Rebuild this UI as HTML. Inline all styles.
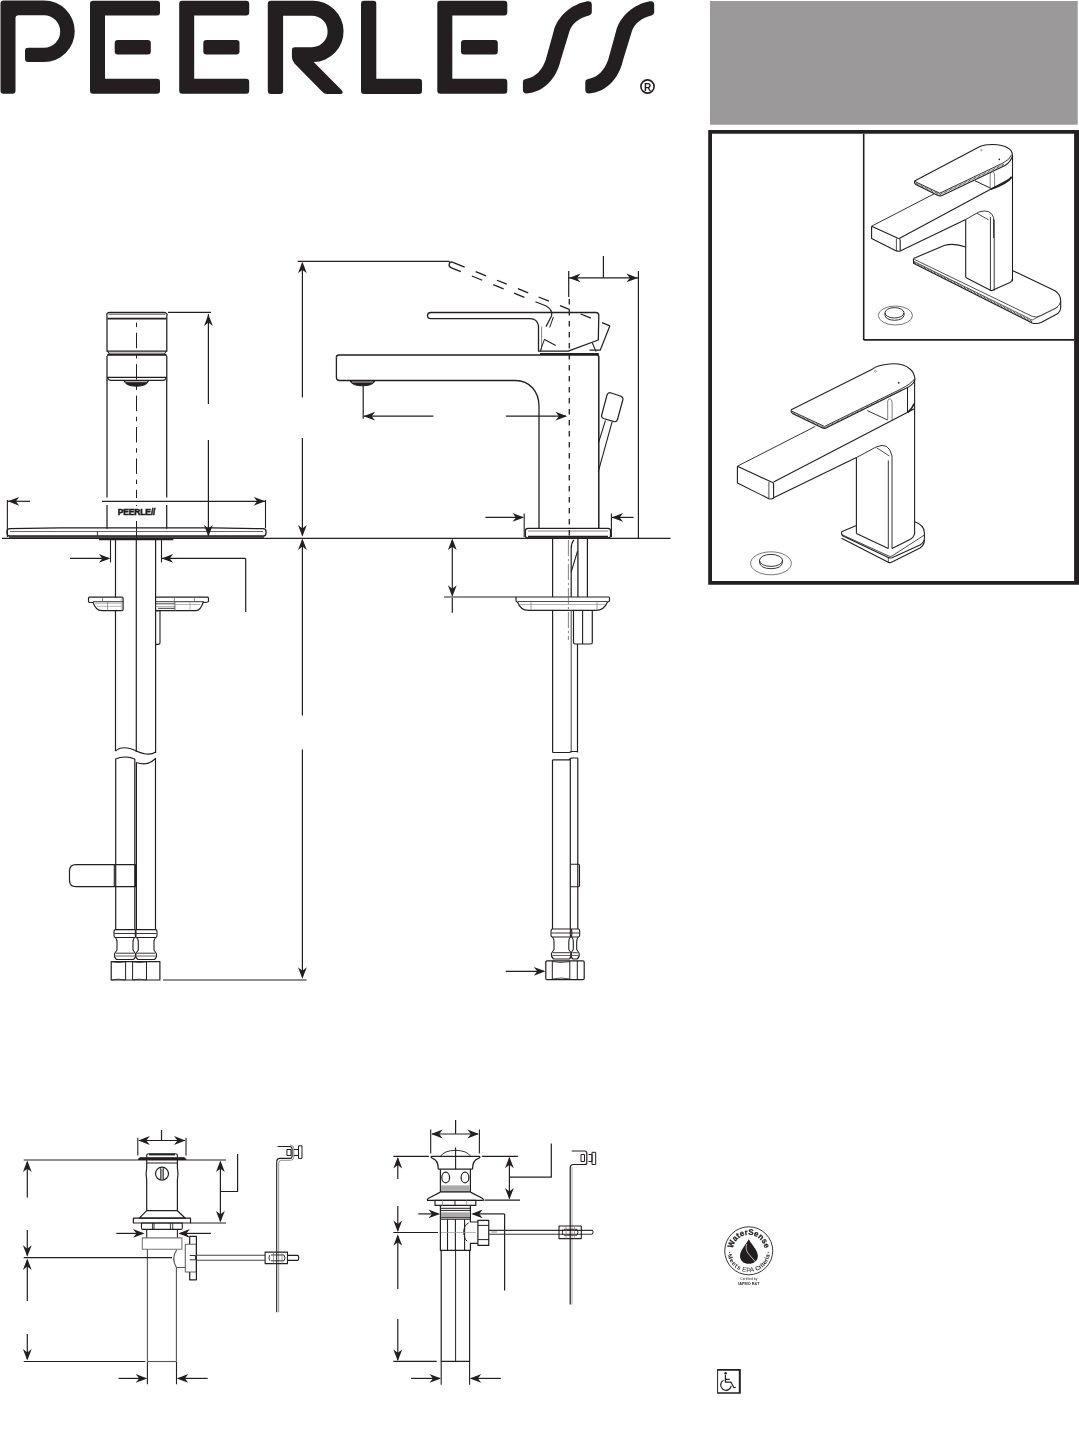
<!DOCTYPE html>
<html><head><meta charset="utf-8"><style>
html,body{margin:0;padding:0;background:#fff;}
body{width:1079px;height:1439px;overflow:hidden;position:relative;font-family:"Liberation Sans",sans-serif;}
svg{position:absolute;left:0;top:0;will-change:transform;}
</style></head><body>
<svg width="1079" height="1439" viewBox="0 0 1079 1439">
<path d="M3.5,0.5 H44 A30.75,30.75 0 0 1 44,62 H28 Q25,62 25,59 V50.7 Q25,47.7 28,47.7 H44 A16.2,16.2 0 0 0 44,15.3 H18.5 Q15.5,15.3 15.5,18.3 V90.8 Q15.5,93.8 12.5,93.8 H3.5 Q0.5,93.8 0.5,90.8 V3.5 Q0.5,0.5 3.5,0.5 Z" fill="#231f20"/>
<path d="M93,0.8 H157 Q160,0.8 160,3.8 V12.4 Q160,15.4 157,15.4 H105 V78.8 H157 Q160,78.8 160,81.8 V90.7 Q160,93.7 157,93.7 H93 Q90,93.7 90,90.7 V3.8 Q90,0.8 93,0.8 Z" fill="#231f20"/>
<rect x="114.7" y="40" width="36.10000000000001" height="14.5" rx="3" fill="#231f20"/>
<path d="M182.2,0.8 H246.2 Q249.2,0.8 249.2,3.8 V12.4 Q249.2,15.4 246.2,15.4 H194.2 V78.8 H246.2 Q249.2,78.8 249.2,81.8 V90.7 Q249.2,93.7 246.2,93.7 H182.2 Q179.2,93.7 179.2,90.7 V3.8 Q179.2,0.8 182.2,0.8 Z" fill="#231f20"/>
<rect x="203.3" y="40" width="36.19999999999999" height="14.5" rx="3" fill="#231f20"/>
<path d="M440.3,0.8 H504.3 Q507.3,0.8 507.3,3.8 V12.4 Q507.3,15.4 504.3,15.4 H452.3 V78.8 H504.3 Q507.3,78.8 507.3,81.8 V90.7 Q507.3,93.7 504.3,93.7 H440.3 Q437.3,93.7 437.3,90.7 V3.8 Q437.3,0.8 440.3,0.8 Z" fill="#231f20"/>
<rect x="461" y="40" width="36.80000000000001" height="14.5" rx="3" fill="#231f20"/>
<path d="M270.8,0.8 H312.2 A30.6,30.6 0 0 1 313.7,62 L342,90.5 Q344,94 340,94 H327 Q324.5,94 322.5,92 L294.5,63.5 Q291.9,60.5 291.9,57 V50.2 Q291.9,47.2 294.9,47.2 H311.85 A15.75,15.75 0 0 0 311.85,15.7 H283.1 V91 Q283.1,94 280.1,94 H270.8 Q267.8,94 267.8,91 V3.8 Q267.8,0.8 270.8,0.8 Z" fill="#231f20"/>
<path d="M364,0.8 H373.3 Q376.3,0.8 376.3,3.8 V78.7 H419 Q422,78.7 422,81.7 V91 Q422,94 419,94 H364 Q361,94 361,91 V3.8 Q361,0.8 364,0.8 Z" fill="#231f20"/>
<path d="M526.8,78.8 C536,76.5 542,70 545.7,59.9 L553.6,31.5 C557,17 571,4 587.5,1.2 Q591.8,0.8 591.8,4.5 V12.5 Q591.8,14.8 589,15.4 C580,17.5 572,23 569.4,31.5 L560.7,59.9 C556,80 543,92 526.8,93.4 Q522.9,93.6 522.9,90 V82 Q522.9,79.4 526.8,78.8 Z" fill="#231f20"/>
<path d="M589.1999999999999,78.8 C598.4,76.5 604.4,70 608.1,59.9 L616.0,31.5 C619.4,17 633.4,4 649.9,1.2 Q654.1999999999999,0.8 654.1999999999999,4.5 V12.5 Q654.1999999999999,14.8 651.4,15.4 C642.4,17.5 634.4,23 631.8,31.5 L623.1,59.9 C618.4,80 605.4,92 589.1999999999999,93.4 Q585.3,93.6 585.3,90 V82 Q585.3,79.4 589.1999999999999,78.8 Z" fill="#231f20"/>
<circle cx="647.5" cy="86.5" r="6.6" fill="none" stroke="#231f20" stroke-width="1.6"/>
<text x="647.6" y="90.6" font-family="Liberation Sans" font-weight="bold" font-size="10" text-anchor="middle" fill="#231f20">R</text>
<rect x="710" y="1" width="367.7" height="123.7" fill="#9b999a"/>
<path d="M708.2,130 H1079 V584.7 H708.2 Z M712,133.8 V581 H1074.1 V133.8 Z" fill="#231f20" fill-rule="evenodd"/>
<line x1="863.70" y1="133.80" x2="863.70" y2="340.00" stroke="#231f20" stroke-width="1.6" />
<line x1="863.70" y1="339.90" x2="1074.10" y2="339.90" stroke="#231f20" stroke-width="1.7" />
<path d="M107,351.2 V316 Q106.2,314.5 107.2,313.5 Q108,312.3 110,312.3 H163.8 Q165.8,312.3 166.6,313.5 Q167.6,314.5 166.8,316 V351.2 Z" stroke="#231f20" stroke-width="1.25" fill="none" stroke-linejoin="round" />
<line x1="108.50" y1="314.10" x2="165.30" y2="314.10" stroke="#231f20" stroke-width="0.9" />
<line x1="107.50" y1="318.60" x2="166.30" y2="318.60" stroke="#231f20" stroke-width="1.9" />
<path d="M107,351.2 L109,353 V354.2 L107.2,356 M166.8,351.2 L164.8,353 V354.2 L166.6,356" stroke="#231f20" stroke-width="1.0" fill="none" stroke-linejoin="round" />
<line x1="109.00" y1="353.20" x2="164.80" y2="353.20" stroke="#231f20" stroke-width="0.8" />
<line x1="107.30" y1="354.80" x2="166.50" y2="354.80" stroke="#231f20" stroke-width="1.7" />
<path d="M107,356 V381 M166.8,356 V381" stroke="#231f20" stroke-width="1.25" fill="none" stroke-linejoin="round" />
<line x1="107.00" y1="377.30" x2="166.80" y2="377.30" stroke="#231f20" stroke-width="1.3" />
<path d="M107.5,377.8 Q108.5,380.4 111,380.4 H162.8 Q165.3,380.4 166.3,377.8" stroke="#231f20" stroke-width="1.1" fill="none" stroke-linejoin="round" />
<path d="M124,380.6 Q125.5,386.2 136.4,386.2 Q147.2,386.2 148.6,380.6 Z" stroke="#231f20" stroke-width="1.0" fill="#231f20" stroke-linejoin="round" />
<path d="M125.5,381.7 H147.2" stroke="#fff" stroke-width="0.8"/>
<line x1="107.00" y1="380.50" x2="107.00" y2="497.50" stroke="#231f20" stroke-width="1.25" />
<line x1="107.00" y1="505.00" x2="107.00" y2="528.70" stroke="#231f20" stroke-width="1.25" />
<line x1="166.70" y1="380.50" x2="166.70" y2="497.50" stroke="#231f20" stroke-width="1.25" />
<line x1="166.70" y1="505.00" x2="166.70" y2="528.70" stroke="#231f20" stroke-width="1.25" />
<line x1="136.5" y1="320" x2="136.5" y2="498" stroke="#231f20" stroke-width="1" stroke-dasharray="15.5,5.7,4.5,5.7" stroke-dashoffset="18.6"/>
<line x1="136.50" y1="505.00" x2="136.50" y2="506.00" stroke="#231f20" stroke-width="1.0" />
<line x1="136.50" y1="521.00" x2="136.50" y2="538.00" stroke="#231f20" stroke-width="1.0" />
<text x="136.5" y="514.5" font-family="Liberation Sans" font-weight="bold" font-size="8.6" text-anchor="middle" fill="#231f20" stroke="#231f20" stroke-width="0.55" letter-spacing="-0.2">PEERLE//</text>
<path d="M9.5,536 Q7,536 7,533 V531 Q7,528.7 10,528.7 L60,527.9 H213 L263,528.7 Q266,528.7 266,531 V533 Q266,536 263.5,536 Z" stroke="#231f20" stroke-width="1.3" fill="none" stroke-linejoin="round" />
<line x1="10.00" y1="531.50" x2="263.00" y2="531.50" stroke="#555" stroke-width="0.9" />
<line x1="97.40" y1="531.50" x2="97.40" y2="536.00" stroke="#231f20" stroke-width="0.9" />
<line x1="9.00" y1="537.20" x2="264.00" y2="537.20" stroke="#231f20" stroke-width="1.2" />
<line x1="2.00" y1="538.40" x2="670.50" y2="538.40" stroke="#231f20" stroke-width="1.3" />
<line x1="99.00" y1="539.40" x2="173.30" y2="539.40" stroke="#231f20" stroke-width="1.8" />
<line x1="208.40" y1="314.00" x2="208.40" y2="404.00" stroke="#231f20" stroke-width="1.2" />
<line x1="208.40" y1="440.00" x2="208.40" y2="536.00" stroke="#231f20" stroke-width="1.2" />
<path d="M208.40,314.50 L212.80,326.00 L208.40,322.55 L204.00,326.00Z" fill="#231f20"/>
<path d="M208.40,536.50 L204.00,525.00 L208.40,528.45 L212.80,525.00Z" fill="#231f20"/>
<line x1="168.00" y1="312.30" x2="211.00" y2="312.30" stroke="#231f20" stroke-width="1.2" />
<line x1="7.40" y1="500.00" x2="7.40" y2="537.00" stroke="#231f20" stroke-width="1.1" />
<line x1="265.50" y1="500.00" x2="265.50" y2="528.00" stroke="#231f20" stroke-width="1.1" />
<line x1="8.00" y1="501.30" x2="30.00" y2="501.30" stroke="#231f20" stroke-width="1.2" />
<line x1="102.00" y1="501.30" x2="265.00" y2="501.30" stroke="#231f20" stroke-width="1.2" />
<path d="M7.80,501.30 L19.30,496.90 L15.85,501.30 L19.30,505.70Z" fill="#231f20"/>
<path d="M265.20,501.30 L253.70,505.70 L257.15,501.30 L253.70,496.90Z" fill="#231f20"/>
<line x1="115.50" y1="540.00" x2="115.50" y2="597.00" stroke="#231f20" stroke-width="1.2" />
<line x1="115.50" y1="610.70" x2="115.50" y2="751.00" stroke="#231f20" stroke-width="1.2" />
<line x1="136.30" y1="540.00" x2="136.30" y2="752.00" stroke="#231f20" stroke-width="1.2" />
<line x1="155.60" y1="540.00" x2="155.60" y2="753.00" stroke="#231f20" stroke-width="1.2" />
<path d="M115.5,751 C122,745 130,748 136.3,751 C143,754 150,756 155.6,752" stroke="#231f20" stroke-width="1.2" fill="none" stroke-linejoin="round" />
<line x1="110.50" y1="540.00" x2="110.50" y2="562.40" stroke="#231f20" stroke-width="1.1" />
<line x1="161.50" y1="540.00" x2="161.50" y2="562.40" stroke="#231f20" stroke-width="1.1" />
<line x1="70.00" y1="558.40" x2="109.00" y2="558.40" stroke="#231f20" stroke-width="1.2" />
<path d="M110.30,558.40 L98.80,562.80 L102.25,558.40 L98.80,554.00Z" fill="#231f20"/>
<line x1="162.00" y1="558.40" x2="245.70" y2="558.40" stroke="#231f20" stroke-width="1.2" />
<line x1="245.70" y1="558.40" x2="245.70" y2="612.00" stroke="#231f20" stroke-width="1.2" />
<path d="M161.70,558.40 L173.20,554.00 L169.75,558.40 L173.20,562.80Z" fill="#231f20"/>
<path d="M89.5,597.1 H122 Q123.1,597.1 123.1,598.5 V609.5 Q123.1,610.6 122,610.6 H101.5 Q96,610.6 93.1,602.5 H89.5 Q88.5,602.5 88.5,601 V598.5 Q88.5,597.1 89.5,597.1 Z" stroke="#231f20" stroke-width="1.2" fill="none" stroke-linejoin="round" />
<line x1="93.00" y1="601.70" x2="123.10" y2="601.70" stroke="#231f20" stroke-width="0.9" />
<line x1="95.00" y1="603.30" x2="121.00" y2="603.30" stroke="#888" stroke-width="0.6" />
<line x1="97.00" y1="606.30" x2="121.00" y2="606.30" stroke="#888" stroke-width="0.6" />
<line x1="102.50" y1="597.10" x2="102.50" y2="601.70" stroke="#555" stroke-width="0.7" />
<line x1="107.50" y1="601.70" x2="107.50" y2="610.60" stroke="#777" stroke-width="0.7" />
<line x1="121.30" y1="597.10" x2="121.30" y2="610.60" stroke="#999" stroke-width="0.6" />
<path d="M155.6,597.1 H207.4 Q208.5,597.1 208.5,598.5 V601 Q208.5,602.5 203.1,602.5 Q200.5,610.6 196,610.6 H155.6" stroke="#231f20" stroke-width="1.2" fill="none" stroke-linejoin="round" />
<line x1="155.60" y1="601.70" x2="204.00" y2="601.70" stroke="#231f20" stroke-width="0.9" />
<line x1="155.60" y1="603.80" x2="174.40" y2="603.80" stroke="#231f20" stroke-width="0.8" />
<line x1="155.60" y1="606.50" x2="174.40" y2="606.50" stroke="#888" stroke-width="0.6" />
<line x1="175.60" y1="604.50" x2="200.00" y2="604.50" stroke="#888" stroke-width="0.6" />
<line x1="174.40" y1="597.10" x2="174.40" y2="610.60" stroke="#555" stroke-width="0.7" />
<line x1="175.60" y1="601.70" x2="175.60" y2="610.60" stroke="#888" stroke-width="0.6" />
<line x1="194.40" y1="597.10" x2="194.40" y2="601.70" stroke="#555" stroke-width="0.7" />
<line x1="190.00" y1="601.70" x2="190.00" y2="610.60" stroke="#888" stroke-width="0.6" />
<line x1="158.00" y1="608.30" x2="174.40" y2="608.30" stroke="#231f20" stroke-width="0.9" />
<path d="M155.6,610.6 H160 V642.5 Q160,644.4 158,644.4 H155.6" stroke="#231f20" stroke-width="1.1" fill="none" stroke-linejoin="round" />
<path d="M115.7,929.6 V759 C122,756 130,757 134.8,759" stroke="#231f20" stroke-width="1.2" fill="none" stroke-linejoin="round" />
<path d="M136.4,762.5 C143,765 150,764 155.5,758.5 V929.6" stroke="#231f20" stroke-width="1.2" fill="none" stroke-linejoin="round" />
<line x1="134.80" y1="759.00" x2="134.80" y2="929.60" stroke="#231f20" stroke-width="1.2" />
<line x1="136.40" y1="762.50" x2="136.40" y2="929.60" stroke="#231f20" stroke-width="1.2" />
<path d="M135.5,864.7 H76 Q69.5,864.7 69.5,871 V880.5 Q69.5,886.6 76,886.6 H135.5 Z" stroke="#231f20" stroke-width="1.2" fill="none" stroke-linejoin="round" />
<line x1="114.30" y1="864.70" x2="114.30" y2="886.60" stroke="#231f20" stroke-width="1.1" />
<path d="M115.5,929.6 H134.5 Q136.0,929.6 136.0,932 V935 Q136.0,937.5 134.5,937.5 H115.5 Q114.0,937.5 114.0,935 V932 Q114.0,929.6 115.5,929.6 Z" stroke="#231f20" stroke-width="1.1" fill="none" stroke-linejoin="round" />
<line x1="114.50" y1="933.50" x2="135.50" y2="933.50" stroke="#231f20" stroke-width="0.9" />
<path d="M115.5,937.5 Q117.0,939.5 117.0,942 V950 Q115.5,952 114.5,954 Q114.0,957.5 116.5,959.5 H133.5 Q136.0,957.5 135.5,954 Q134.5,952 133.0,950 V942 Q133.0,939.5 134.5,937.5" stroke="#231f20" stroke-width="1.1" fill="none" stroke-linejoin="round" />
<line x1="116.00" y1="953.20" x2="134.00" y2="953.20" stroke="#231f20" stroke-width="0.9" />
<line x1="115.50" y1="956.00" x2="134.50" y2="956.00" stroke="#231f20" stroke-width="0.7" />
<path d="M136.8,929.6 H155.5 Q157.0,929.6 157.0,932 V935 Q157.0,937.5 155.5,937.5 H136.8 Q135.3,937.5 135.3,935 V932 Q135.3,929.6 136.8,929.6 Z" stroke="#231f20" stroke-width="1.1" fill="none" stroke-linejoin="round" />
<line x1="135.80" y1="933.50" x2="156.50" y2="933.50" stroke="#231f20" stroke-width="0.9" />
<path d="M136.8,937.5 Q138.3,939.5 138.3,942 V950 Q136.8,952 135.8,954 Q135.3,957.5 137.8,959.5 H154.5 Q157.0,957.5 156.5,954 Q155.5,952 154.0,950 V942 Q154.0,939.5 155.5,937.5" stroke="#231f20" stroke-width="1.1" fill="none" stroke-linejoin="round" />
<line x1="137.30" y1="953.20" x2="155.00" y2="953.20" stroke="#231f20" stroke-width="0.9" />
<line x1="136.80" y1="956.00" x2="155.50" y2="956.00" stroke="#231f20" stroke-width="0.7" />
<path d="M111.2,961.7 H159.9 V980 H111.2 Z" stroke="#231f20" stroke-width="1.2" fill="none" stroke-linejoin="round" />
<line x1="125.60" y1="961.70" x2="125.60" y2="980.00" stroke="#231f20" stroke-width="1.0" />
<line x1="132.60" y1="961.70" x2="132.60" y2="980.00" stroke="#231f20" stroke-width="1.0" />
<line x1="146.50" y1="961.70" x2="146.50" y2="980.00" stroke="#231f20" stroke-width="1.0" />
<path d="M111.5,961.7 Q118,963.5 125.6,961.7 M132.6,961.7 Q139,963.5 146.5,961.7 M111.5,980 Q118,978.3 125.6,980 M132.6,980 Q139,978.3 146.5,980" stroke="#231f20" stroke-width="0.8" fill="none" stroke-linejoin="round" />
<line x1="163.00" y1="980.00" x2="306.60" y2="980.00" stroke="#231f20" stroke-width="1.2" />
<line x1="302.40" y1="263.00" x2="302.40" y2="397.50" stroke="#231f20" stroke-width="1.2" />
<line x1="302.40" y1="437.90" x2="302.40" y2="535.50" stroke="#231f20" stroke-width="1.2" />
<path d="M302.40,261.70 L306.80,273.20 L302.40,269.75 L298.00,273.20Z" fill="#231f20"/>
<path d="M302.40,536.60 L298.00,525.10 L302.40,528.55 L306.80,525.10Z" fill="#231f20"/>
<line x1="302.40" y1="540.00" x2="302.40" y2="715.40" stroke="#231f20" stroke-width="1.2" />
<line x1="302.40" y1="749.50" x2="302.40" y2="977.00" stroke="#231f20" stroke-width="1.2" />
<path d="M302.40,538.40 L306.80,549.90 L302.40,546.45 L298.00,549.90Z" fill="#231f20"/>
<path d="M302.40,978.80 L298.00,967.30 L302.40,970.75 L306.80,967.30Z" fill="#231f20"/>
<line x1="297.70" y1="261.30" x2="449.80" y2="261.30" stroke="#231f20" stroke-width="1.2" />
<path d="M336.4,357.5 Q336.4,355 339,355 H596.5 Q598.8,355 598.8,357 V528.4" stroke="#231f20" stroke-width="1.5" fill="none" stroke-linejoin="round" />
<path d="M336.4,357.5 V377.5 Q336.4,380.5 339.5,380.5 H515.3 C530,380.5 539,392 539,406.2 V528.4" stroke="#231f20" stroke-width="1.3" fill="none" stroke-linejoin="round" />
<path d="M350,380.8 Q352,385.8 362.5,385.8 Q373,385.8 375,380.8 Z" stroke="#231f20" stroke-width="1.0" fill="#231f20" stroke-linejoin="round" />
<path d="M352,382 H373" stroke="#fff" stroke-width="0.7"/>
<line x1="540.00" y1="354.00" x2="598.80" y2="354.00" stroke="#231f20" stroke-width="2.2" />
<path d="M427.5,315.8 Q427.5,312.5 431,312.5 H596 Q598.8,312.5 598.8,315.5 L598.3,340 L568.2,351.2 H538.5 V325.7 C537.5,321 534,318.7 530.2,318.7 H431 Q427.5,318.7 427.5,315.8 Z" stroke="#231f20" stroke-width="1.3" fill="none" stroke-linejoin="round" />
<line x1="541.60" y1="326.50" x2="541.60" y2="351.00" stroke="#777" stroke-width="0.9" />
<path d="M610.5,392.8 L621,396.2 Q623.5,397.5 622.8,400 L617.5,419.5 Q616.6,422.3 614,421.6 L603.5,418.5 Q601,417.5 601.7,415 L607,395 Q608,392.3 610.5,392.8 Z" stroke="#231f20" stroke-width="1.2" fill="none" stroke-linejoin="round" />
<path d="M605.5,420.4 L598.5,442.6 M612.1,421.8 L598.2,471.8" stroke="#231f20" stroke-width="1.1" fill="none" stroke-linejoin="round" />
<path d="M527.5,537.9 Q525.4,537.9 525.4,535.5 V531 Q525.4,528.4 528,528.4 H608 Q610.5,528.4 610.5,531 V535.5 Q610.5,537.9 608.5,537.9 Z" stroke="#231f20" stroke-width="1.2" fill="none" stroke-linejoin="round" />
<line x1="528.00" y1="531.00" x2="608.00" y2="531.00" stroke="#666" stroke-width="0.8" />
<line x1="528.00" y1="536.60" x2="608.00" y2="536.60" stroke="#231f20" stroke-width="1.6" />
<line x1="568.70" y1="271.00" x2="568.70" y2="297.00" stroke="#231f20" stroke-width="1.2" />
<line x1="569.3" y1="299" x2="569.3" y2="540" stroke="#231f20" stroke-width="1.3" stroke-dasharray="5.5,5.5"/>
<line x1="568.50" y1="277.90" x2="638.40" y2="277.90" stroke="#231f20" stroke-width="1.2" />
<path d="M569.00,277.90 L580.50,273.50 L577.05,277.90 L580.50,282.30Z" fill="#231f20"/>
<path d="M637.90,277.90 L626.40,282.30 L629.85,277.90 L626.40,273.50Z" fill="#231f20"/>
<line x1="603.40" y1="256.00" x2="603.40" y2="277.90" stroke="#231f20" stroke-width="1.2" />
<line x1="638.40" y1="271.00" x2="638.40" y2="538.00" stroke="#231f20" stroke-width="1.2" />
<line x1="363.20" y1="385.80" x2="363.20" y2="418.80" stroke="#231f20" stroke-width="1.2" />
<line x1="364.00" y1="416.20" x2="433.40" y2="416.20" stroke="#231f20" stroke-width="1.2" />
<path d="M363.60,416.20 L375.10,411.80 L371.65,416.20 L375.10,420.60Z" fill="#231f20"/>
<line x1="505.90" y1="416.20" x2="566.00" y2="416.20" stroke="#231f20" stroke-width="1.2" />
<path d="M567.00,416.20 L555.50,420.60 L558.95,416.20 L555.50,411.80Z" fill="#231f20"/>
<line x1="524.20" y1="513.50" x2="524.20" y2="537.00" stroke="#231f20" stroke-width="1.1" />
<line x1="611.40" y1="513.50" x2="611.40" y2="537.00" stroke="#231f20" stroke-width="1.1" />
<line x1="485.40" y1="517.40" x2="523.00" y2="517.40" stroke="#231f20" stroke-width="1.2" />
<path d="M524.00,517.40 L512.50,521.80 L515.95,517.40 L512.50,513.00Z" fill="#231f20"/>
<line x1="612.00" y1="517.40" x2="633.50" y2="517.40" stroke="#231f20" stroke-width="1.2" />
<path d="M611.60,517.40 L623.10,513.00 L619.65,517.40 L623.10,521.80Z" fill="#231f20"/>
<path d="M464.7,267.20 L452.3,262.2 C449,261 447.5,266.5 451.5,267.8 L460.8,271.57" stroke="#231f20" stroke-width="1.3" fill="none" stroke-linejoin="round" />
<line x1="475.70" y1="271.64" x2="486.00" y2="275.80" stroke="#231f20" stroke-width="1.3" />
<line x1="497.00" y1="280.24" x2="506.80" y2="284.19" stroke="#231f20" stroke-width="1.3" />
<line x1="517.90" y1="288.67" x2="528.20" y2="292.83" stroke="#231f20" stroke-width="1.3" />
<line x1="538.60" y1="297.02" x2="549.00" y2="301.22" stroke="#231f20" stroke-width="1.3" />
<line x1="560.00" y1="305.66" x2="569.80" y2="309.61" stroke="#231f20" stroke-width="1.3" />
<line x1="580.70" y1="314.01" x2="590.90" y2="318.13" stroke="#231f20" stroke-width="1.3" />
<line x1="602.00" y1="322.60" x2="609.90" y2="325.79" stroke="#231f20" stroke-width="1.3" />
<line x1="471.80" y1="276.02" x2="482.20" y2="280.23" stroke="#231f20" stroke-width="1.3" />
<line x1="493.20" y1="284.69" x2="503.60" y2="288.90" stroke="#231f20" stroke-width="1.3" />
<line x1="514.00" y1="293.11" x2="524.40" y2="297.32" stroke="#231f20" stroke-width="1.3" />
<path d="M535.4,301.78 L545.7,305.8 C550,308 552.5,312 551.5,316 L546,326.6" stroke="#231f20" stroke-width="1.2" fill="none" stroke-linejoin="round" />
<path d="M553.4,316.9 L549.7,327.5" stroke="#231f20" stroke-width="1.0" fill="none" stroke-linejoin="round" />
<path d="M609.9,325.7 L600.2,350.2 H589.5" stroke="#231f20" stroke-width="1.2" fill="none" stroke-linejoin="round" />
<path d="M544.6,339.5 L555.7,345.6" stroke="#231f20" stroke-width="1.1" fill="none" stroke-linejoin="round" />
<path d="M544.6,339 L540,351.6" stroke="#231f20" stroke-width="1.0" fill="none" stroke-linejoin="round" />
<path d="M592.3,342.8 L596,351.6" stroke="#231f20" stroke-width="1.1" fill="none" stroke-linejoin="round" />
<line x1="452.30" y1="540.00" x2="452.30" y2="595.50" stroke="#231f20" stroke-width="1.2" />
<path d="M452.30,538.60 L456.70,550.10 L452.30,546.65 L447.90,550.10Z" fill="#231f20"/>
<path d="M452.30,596.80 L447.90,585.30 L452.30,588.75 L456.70,585.30Z" fill="#231f20"/>
<line x1="452.30" y1="598.00" x2="452.30" y2="612.80" stroke="#231f20" stroke-width="1.2" />
<line x1="444.00" y1="597.00" x2="516.00" y2="597.00" stroke="#231f20" stroke-width="1.2" />
<path d="M516,597 H608.7 Q609.5,597 609.5,598.5 V600.5 Q609.5,601.8 607.5,602 Q604,610.4 596,610.4 H528.5 Q520.5,610.4 517.5,602 Q516,601.8 516,600.5 Z" stroke="#231f20" stroke-width="1.2" fill="none" stroke-linejoin="round" />
<line x1="518.00" y1="601.50" x2="607.50" y2="601.50" stroke="#231f20" stroke-width="0.8" />
<line x1="518.50" y1="604.50" x2="606.00" y2="604.50" stroke="#888" stroke-width="0.6" />
<line x1="531.00" y1="601.50" x2="531.00" y2="610.40" stroke="#777" stroke-width="0.7" />
<line x1="597.00" y1="601.50" x2="597.00" y2="610.40" stroke="#777" stroke-width="0.7" />
<line x1="552.60" y1="539.00" x2="552.60" y2="597.00" stroke="#231f20" stroke-width="1.2" />
<line x1="552.60" y1="610.40" x2="552.60" y2="752.50" stroke="#231f20" stroke-width="1.2" />
<line x1="577.90" y1="539.00" x2="577.90" y2="597.00" stroke="#231f20" stroke-width="1.3" />
<line x1="571.20" y1="610.40" x2="571.20" y2="752.50" stroke="#555" stroke-width="1.1" />
<line x1="577.50" y1="644.00" x2="577.50" y2="752.50" stroke="#231f20" stroke-width="1.2" />
<line x1="568.4" y1="540" x2="568.4" y2="640" stroke="#666" stroke-width="0.8" stroke-dasharray="16,3,2,3"/>
<path d="M587.4,539 V597" stroke="#231f20" stroke-width="1.2" fill="none" stroke-linejoin="round" />
<path d="M573.9,539.9 Q571.2,543 571.2,548.5 V597" stroke="#231f20" stroke-width="1.2" fill="none" stroke-linejoin="round" />
<path d="M577.5,551.2 L571.2,572" stroke="#231f20" stroke-width="1.1" fill="none" stroke-linejoin="round" />
<path d="M573.5,610.4 V642.5 Q573.5,644 575,644 H590.8 Q592.3,644 592.3,642.5 V610.4" stroke="#231f20" stroke-width="1.2" fill="none" stroke-linejoin="round" />
<line x1="582.60" y1="610.40" x2="582.60" y2="644.00" stroke="#231f20" stroke-width="1.1" />
<path d="M552.6,752.5 H569.4 L571.3,751.5 H577.8" stroke="#231f20" stroke-width="1.2" fill="none" stroke-linejoin="round" />
<path d="M552.6,759.8 H569.4 L571.3,758 H577.8" stroke="#231f20" stroke-width="1.2" fill="none" stroke-linejoin="round" />
<line x1="552.50" y1="759.80" x2="552.50" y2="929.00" stroke="#231f20" stroke-width="1.2" />
<line x1="570.30" y1="758.00" x2="570.30" y2="929.00" stroke="#231f20" stroke-width="1.2" />
<line x1="577.80" y1="758.00" x2="577.80" y2="929.00" stroke="#231f20" stroke-width="1.2" />
<path d="M570.3,864.2 H578.5 Q579.5,864.2 579.5,865.5 V885.5 Q579.5,886.7 578.5,886.7 H570.3" stroke="#231f20" stroke-width="1.1" fill="none" stroke-linejoin="round" />
<path d="M552.5,929 H570.3 Q571.8,929 571.8,931.5 V934.5 Q571.8,937 570.3,937 H552.5 Q551.0,937 551.0,934.5 V931.5 Q551.0,929 552.5,929 Z" stroke="#231f20" stroke-width="1.1" fill="none" stroke-linejoin="round" />
<line x1="551.50" y1="933.00" x2="571.30" y2="933.00" stroke="#231f20" stroke-width="0.9" />
<path d="M552.5,937 Q554.0,939 554.0,941.5 V949.5 Q552.5,951.5 551.5,953.5 Q551.0,957 553.5,959 H569.3 Q571.8,957 571.3,953.5 Q570.3,951.5 568.8,949.5 V941.5 Q568.8,939 570.3,937" stroke="#231f20" stroke-width="1.1" fill="none" stroke-linejoin="round" />
<line x1="553.00" y1="952.70" x2="569.80" y2="952.70" stroke="#231f20" stroke-width="0.9" />
<line x1="552.50" y1="955.50" x2="570.30" y2="955.50" stroke="#231f20" stroke-width="0.7" />
<path d="M571.8,929 H578.2 Q579.7,929 579.7,931.5 V934.5 Q579.7,937 578.2,937 H571.8 Q570.3,937 570.3,934.5 V931.5 Q570.3,929 571.8,929 Z" stroke="#231f20" stroke-width="1.1" fill="none" stroke-linejoin="round" />
<line x1="570.80" y1="933.00" x2="579.20" y2="933.00" stroke="#231f20" stroke-width="0.9" />
<path d="M571.8,937 Q573.3,939 573.3,941.5 V949.5 Q571.8,951.5 570.8,953.5 Q570.3,957 572.8,959 H577.2 Q579.7,957 579.2,953.5 Q578.2,951.5 576.7,949.5 V941.5 Q576.7,939 578.2,937" stroke="#231f20" stroke-width="1.1" fill="none" stroke-linejoin="round" />
<line x1="572.30" y1="952.70" x2="577.70" y2="952.70" stroke="#231f20" stroke-width="0.9" />
<line x1="571.80" y1="955.50" x2="578.20" y2="955.50" stroke="#231f20" stroke-width="0.7" />
<path d="M547,960.8 H583 Q584.2,960.8 584.2,962 V978.5 Q584.2,979.7 583,979.7 H547 Q545.8,979.7 545.8,978.5 V962 Q545.8,960.8 547,960.8 Z" stroke="#231f20" stroke-width="1.2" fill="none" stroke-linejoin="round" />
<line x1="552.30" y1="960.80" x2="552.30" y2="979.70" stroke="#231f20" stroke-width="1.0" />
<line x1="569.80" y1="960.80" x2="569.80" y2="979.70" stroke="#231f20" stroke-width="1.0" />
<line x1="577.30" y1="960.80" x2="577.30" y2="979.70" stroke="#231f20" stroke-width="1.0" />
<path d="M552.3,961.5 Q561,963.5 569.8,961.5 M552.3,979 Q561,977 569.8,979" stroke="#231f20" stroke-width="0.8" fill="none" stroke-linejoin="round" />
<line x1="505.80" y1="971.30" x2="544.00" y2="971.30" stroke="#231f20" stroke-width="1.2" />
<path d="M545.30,971.30 L533.80,975.70 L537.25,971.30 L533.80,966.90Z" fill="#231f20"/>
<line x1="137.80" y1="1137.80" x2="137.80" y2="1155.60" stroke="#231f20" stroke-width="1.1" />
<line x1="186.00" y1="1137.80" x2="186.00" y2="1155.60" stroke="#231f20" stroke-width="1.1" />
<line x1="139.00" y1="1140.50" x2="185.00" y2="1140.50" stroke="#231f20" stroke-width="1.2" />
<path d="M138.30,1140.50 L149.80,1136.10 L146.35,1140.50 L149.80,1144.90Z" fill="#231f20"/>
<path d="M185.50,1140.50 L174.00,1144.90 L177.45,1140.50 L174.00,1136.10Z" fill="#231f20"/>
<line x1="161.50" y1="1130.00" x2="161.50" y2="1140.50" stroke="#231f20" stroke-width="1.2" />
<path d="M146.7,1158 V1155.5 Q146.7,1153.8 149,1153.8 H175 Q177.4,1153.8 177.4,1155.5 V1158" stroke="#231f20" stroke-width="1.1" fill="none" stroke-linejoin="round" />
<line x1="149.00" y1="1154.60" x2="175.00" y2="1154.60" stroke="#231f20" stroke-width="1.6" />
<path d="M137.8,1160 L140,1157.8 H184 L186.3,1160 Z" stroke="#231f20" stroke-width="1.2" fill="#231f20" stroke-linejoin="round" />
<line x1="23.70" y1="1160.00" x2="137.00" y2="1160.00" stroke="#231f20" stroke-width="1.2" />
<line x1="187.00" y1="1160.00" x2="226.00" y2="1160.00" stroke="#231f20" stroke-width="1.2" />
<path d="M146.7,1160 V1168 Q145.5,1174 146.7,1180 V1210.7 M177.4,1160 V1168 Q178.6,1174 177.4,1180 V1210.7" stroke="#231f20" stroke-width="1.2" fill="none" stroke-linejoin="round" />
<line x1="146.70" y1="1163.00" x2="177.40" y2="1163.00" stroke="#231f20" stroke-width="1.0" />
<circle cx="162" cy="1173.7" r="6.5" fill="none" stroke="#231f20" stroke-width="1.2"/>
<path d="M160.6,1168.2 V1179.2 M163.4,1168.2 V1179.2" stroke="#231f20" stroke-width="0.9" fill="none" stroke-linejoin="round" />
<rect x="160.8" y="1168.5" width="2.4" height="10.5" fill="#999"/>
<path d="M146.7,1210.7 H177.4 L185.3,1218.2 H139.3 Z" stroke="#231f20" stroke-width="1.2" fill="none" stroke-linejoin="round" />
<path d="M133.4,1218.2 H190.5 V1223 H133.4 Z" stroke="#231f20" stroke-width="1.2" fill="none" stroke-linejoin="round" />
<line x1="190.50" y1="1223.00" x2="226.00" y2="1223.00" stroke="#231f20" stroke-width="1.2" />
<line x1="220.40" y1="1162.00" x2="220.40" y2="1221.00" stroke="#231f20" stroke-width="1.2" />
<path d="M220.40,1160.60 L224.80,1172.10 L220.40,1168.65 L216.00,1172.10Z" fill="#231f20"/>
<path d="M220.40,1222.40 L216.00,1210.90 L220.40,1214.35 L224.80,1210.90Z" fill="#231f20"/>
<path d="M220.4,1191.5 H237.6 V1154" stroke="#231f20" stroke-width="1.2" fill="none" stroke-linejoin="round" />
<path d="M141.5,1223 H182.3 V1228 Q182.3,1229.4 181,1229.4 H142.8 Q141.5,1229.4 141.5,1228 Z" stroke="#231f20" stroke-width="1.1" fill="none" stroke-linejoin="round" />
<line x1="152.60" y1="1223.00" x2="152.60" y2="1229.40" stroke="#231f20" stroke-width="0.9" />
<line x1="154.00" y1="1223.00" x2="154.00" y2="1229.40" stroke="#231f20" stroke-width="0.9" />
<line x1="170.40" y1="1223.00" x2="170.40" y2="1229.40" stroke="#231f20" stroke-width="0.9" />
<line x1="172.70" y1="1223.00" x2="172.70" y2="1229.40" stroke="#231f20" stroke-width="0.9" />
<line x1="146.70" y1="1229.40" x2="146.70" y2="1237.90" stroke="#231f20" stroke-width="1.1" />
<line x1="177.40" y1="1229.40" x2="177.40" y2="1237.90" stroke="#231f20" stroke-width="1.1" />
<line x1="116.30" y1="1233.40" x2="143.00" y2="1233.40" stroke="#231f20" stroke-width="1.2" />
<path d="M144.50,1233.40 L133.00,1237.80 L136.45,1233.40 L133.00,1229.00Z" fill="#231f20"/>
<line x1="180.00" y1="1233.40" x2="211.00" y2="1233.40" stroke="#231f20" stroke-width="1.2" />
<path d="M178.30,1233.40 L189.80,1229.00 L186.35,1233.40 L189.80,1237.80Z" fill="#231f20"/>
<path d="M142.3,1237.9 H181.9 V1249.3 H142.3 Z" stroke="#777" stroke-width="1.1" fill="none" stroke-linejoin="round" />
<line x1="147.40" y1="1249.30" x2="147.40" y2="1361.50" stroke="#555" stroke-width="1.1" />
<line x1="176.40" y1="1267.50" x2="176.40" y2="1361.50" stroke="#555" stroke-width="1.1" />
<line x1="147.40" y1="1361.50" x2="176.40" y2="1361.50" stroke="#555" stroke-width="1.1" />
<path d="M176.4,1249.7 V1250.5 Q171,1258 176.4,1267.5 H185.3" stroke="#555" stroke-width="1.1" fill="none" stroke-linejoin="round" />
<path d="M185.3,1244.3 H196.4 V1272 H185.3 Z" stroke="#666" stroke-width="1.1" fill="none" stroke-linejoin="round" />
<path d="M189.7,1244.3 V1236.4 H196.4 V1279.8 H189.7 V1272" stroke="#231f20" stroke-width="1.2" fill="none" stroke-linejoin="round" />
<path d="M189.7,1255.5 H195.5 V1259.8 H189.7" stroke="#231f20" stroke-width="0.9" fill="none" stroke-linejoin="round" />
<line x1="23.70" y1="1257.60" x2="172.00" y2="1257.60" stroke="#231f20" stroke-width="1.2" />
<line x1="196.40" y1="1255.30" x2="265.10" y2="1255.30" stroke="#444" stroke-width="1.1" />
<line x1="196.40" y1="1260.30" x2="265.10" y2="1260.30" stroke="#444" stroke-width="1.1" />
<line x1="27.30" y1="1162.00" x2="27.30" y2="1197.50" stroke="#231f20" stroke-width="1.2" />
<path d="M27.30,1160.60 L31.70,1172.10 L27.30,1168.65 L22.90,1172.10Z" fill="#231f20"/>
<line x1="27.30" y1="1230.00" x2="27.30" y2="1255.50" stroke="#231f20" stroke-width="1.2" />
<path d="M27.30,1256.80 L22.90,1245.30 L27.30,1248.75 L31.70,1245.30Z" fill="#231f20"/>
<line x1="27.30" y1="1260.00" x2="27.30" y2="1301.00" stroke="#231f20" stroke-width="1.2" />
<path d="M27.30,1258.50 L31.70,1270.00 L27.30,1266.55 L22.90,1270.00Z" fill="#231f20"/>
<line x1="27.30" y1="1334.00" x2="27.30" y2="1359.00" stroke="#231f20" stroke-width="1.2" />
<path d="M27.30,1360.60 L22.90,1349.10 L27.30,1352.55 L31.70,1349.10Z" fill="#231f20"/>
<line x1="23.70" y1="1361.50" x2="145.30" y2="1361.50" stroke="#231f20" stroke-width="1.2" />
<line x1="147.40" y1="1362.00" x2="147.40" y2="1384.30" stroke="#231f20" stroke-width="1.1" />
<line x1="176.50" y1="1362.00" x2="176.50" y2="1384.30" stroke="#231f20" stroke-width="1.1" />
<line x1="118.60" y1="1378.40" x2="146.00" y2="1378.40" stroke="#231f20" stroke-width="1.2" />
<path d="M147.20,1378.40 L135.70,1382.80 L139.15,1378.40 L135.70,1374.00Z" fill="#231f20"/>
<line x1="178.00" y1="1378.40" x2="207.60" y2="1378.40" stroke="#231f20" stroke-width="1.2" />
<path d="M176.80,1378.40 L188.30,1374.00 L184.85,1378.40 L188.30,1382.80Z" fill="#231f20"/>
<path d="M276.7,1312.2 V1162 Q276.7,1158.4 280,1158.4 H290 Q292.1,1158.4 292.1,1156 V1149 Q292.1,1146.5 289.5,1146.5 H277.6" stroke="#231f20" stroke-width="1.1" fill="none" stroke-linejoin="round" />
<path d="M278.7,1312.2 V1163 Q278.7,1160.3 281.5,1160.3 H290.5 Q293.8,1160.3 293.8,1157 V1148.5 Q293.8,1145 290,1145" stroke="#777" stroke-width="0.8" fill="none" stroke-linejoin="round" />
<path d="M286.9,1149.5 H291 V1155.5 H286.9 Z" stroke="#231f20" stroke-width="1.0" fill="none" stroke-linejoin="round" />
<path d="M293.8,1149.5 H298.5 V1155.5 H293.8 M298.5,1145.8 H302 V1158.4 H298.5 Z" stroke="#231f20" stroke-width="1.0" fill="none" stroke-linejoin="round" />
<path d="M265.1,1252.1 H287.5 V1263.6 H265.1 Z" stroke="#231f20" stroke-width="1.1" fill="none" stroke-linejoin="round" />
<path d="M287.5,1255.4 H297.5 Q298.7,1255.4 298.7,1257.9 Q298.7,1260.4 297.5,1260.4 H287.5" stroke="#231f20" stroke-width="1.1" fill="none" stroke-linejoin="round" />
<path d="M271,1255 H284 M271,1260.8 H284 M269.8,1255 Q268,1258 269.8,1260.8 M284,1255 Q286,1258 284,1260.8" stroke="#231f20" stroke-width="0.9" fill="none" stroke-linejoin="round" />
<line x1="273.50" y1="1252.10" x2="273.50" y2="1263.60" stroke="#777" stroke-width="0.7" />
<line x1="282.00" y1="1252.10" x2="282.00" y2="1263.60" stroke="#777" stroke-width="0.7" />
<line x1="430.70" y1="1129.60" x2="430.70" y2="1153.40" stroke="#231f20" stroke-width="1.1" />
<line x1="479.40" y1="1129.60" x2="479.40" y2="1153.40" stroke="#231f20" stroke-width="1.1" />
<line x1="432.00" y1="1134.00" x2="478.00" y2="1134.00" stroke="#231f20" stroke-width="1.2" />
<path d="M431.20,1134.00 L442.70,1129.60 L439.25,1134.00 L442.70,1138.40Z" fill="#231f20"/>
<path d="M478.90,1134.00 L467.40,1138.40 L470.85,1134.00 L467.40,1129.60Z" fill="#231f20"/>
<line x1="455.60" y1="1120.00" x2="455.60" y2="1134.00" stroke="#231f20" stroke-width="1.2" />
<path d="M440.5,1156.3 Q444,1150.6 455.6,1150.3 Q467,1150.6 470.7,1156.3" stroke="#333" stroke-width="1.0" fill="none" stroke-linejoin="round" />
<path d="M431.3,1156.3 H479.6 Q480.5,1157.5 478.5,1158.3 Q472.5,1160 472.5,1169.2 M431.3,1156.3 Q430.5,1157.5 432.5,1158.3 Q438.3,1160 438.3,1169.2" stroke="#231f20" stroke-width="1.2" fill="none" stroke-linejoin="round" />
<line x1="455.60" y1="1147.50" x2="455.60" y2="1169.20" stroke="#231f20" stroke-width="1.1" />
<line x1="393.30" y1="1156.30" x2="428.90" y2="1156.30" stroke="#231f20" stroke-width="1.2" />
<line x1="481.90" y1="1156.30" x2="517.90" y2="1156.30" stroke="#231f20" stroke-width="1.2" />
<line x1="438.30" y1="1169.20" x2="472.50" y2="1169.20" stroke="#231f20" stroke-width="1.3" />
<path d="M440.4,1169.2 V1192.1 M470.4,1169.2 V1192.1" stroke="#231f20" stroke-width="1.2" fill="none" stroke-linejoin="round" />
<ellipse cx="445.7" cy="1177.5" rx="3.9" ry="5.3" fill="none" stroke="#231f20" stroke-width="1.2"/>
<ellipse cx="465" cy="1177.5" rx="3.9" ry="5.3" fill="none" stroke="#231f20" stroke-width="1.2"/>
<rect x="440.9" y="1185.4" width="29" height="5" fill="#aaa"/>
<line x1="440.40" y1="1191.30" x2="470.40" y2="1191.30" stroke="#231f20" stroke-width="1.0" />
<line x1="440.40" y1="1192.30" x2="470.40" y2="1192.30" stroke="#231f20" stroke-width="0.7" />
<path d="M440.4,1192.1 L428.5,1198.3 Q427,1199.2 427.5,1200.4 H483.3 Q483.8,1199.2 482.3,1198.3 L470.4,1192.1" stroke="#231f20" stroke-width="1.2" fill="none" stroke-linejoin="round" />
<line x1="484.50" y1="1200.20" x2="520.00" y2="1200.20" stroke="#231f20" stroke-width="1.2" />
<line x1="509.40" y1="1158.00" x2="509.40" y2="1198.50" stroke="#231f20" stroke-width="1.2" />
<path d="M509.40,1156.80 L513.80,1168.30 L509.40,1164.85 L505.00,1168.30Z" fill="#231f20"/>
<path d="M509.40,1199.60 L505.00,1188.10 L509.40,1191.55 L513.80,1188.10Z" fill="#231f20"/>
<path d="M509.4,1177.2 H551.3 V1143.4" stroke="#231f20" stroke-width="1.2" fill="none" stroke-linejoin="round" />
<path d="M435,1200.4 H475.8 V1205.4 H435 Z" stroke="#231f20" stroke-width="1.2" fill="none" stroke-linejoin="round" />
<line x1="442.50" y1="1200.40" x2="442.50" y2="1205.40" stroke="#888" stroke-width="0.8" />
<line x1="455.00" y1="1200.40" x2="455.00" y2="1205.40" stroke="#231f20" stroke-width="1.0" />
<line x1="466.70" y1="1200.40" x2="466.70" y2="1205.40" stroke="#888" stroke-width="0.8" />
<path d="M440.4,1205.4 V1219.2 M470.4,1205.4 V1219.2" stroke="#231f20" stroke-width="1.2" fill="none" stroke-linejoin="round" />
<line x1="440.40" y1="1208.30" x2="470.40" y2="1208.30" stroke="#231f20" stroke-width="1.0" />
<line x1="440.40" y1="1210.40" x2="470.40" y2="1210.40" stroke="#231f20" stroke-width="1.0" />
<rect x="440.9" y="1212.3" width="29" height="4.8" fill="#aaa"/>
<line x1="440.40" y1="1217.60" x2="470.40" y2="1217.60" stroke="#231f20" stroke-width="0.9" />
<line x1="440.40" y1="1219.20" x2="470.40" y2="1219.20" stroke="#231f20" stroke-width="1.1" />
<line x1="418.30" y1="1213.90" x2="438.50" y2="1213.90" stroke="#231f20" stroke-width="1.2" />
<path d="M440.00,1213.90 L428.50,1218.30 L431.95,1213.90 L428.50,1209.50Z" fill="#231f20"/>
<line x1="473.00" y1="1213.90" x2="504.60" y2="1213.90" stroke="#231f20" stroke-width="1.2" />
<path d="M471.20,1213.90 L482.70,1209.50 L479.25,1213.90 L482.70,1218.30Z" fill="#231f20"/>
<line x1="504.60" y1="1213.90" x2="504.60" y2="1290.60" stroke="#231f20" stroke-width="1.2" />
<path d="M440.4,1219.2 V1250.4 H470.4 V1243.3 H477.9 M470.4,1219.2 V1222 H477.9" stroke="#231f20" stroke-width="1.2" fill="none" stroke-linejoin="round" />
<line x1="447.50" y1="1219.20" x2="447.50" y2="1250.40" stroke="#231f20" stroke-width="1.1" />
<line x1="455.40" y1="1219.20" x2="455.40" y2="1250.40" stroke="#231f20" stroke-width="1.1" />
<line x1="464.60" y1="1219.20" x2="464.60" y2="1250.40" stroke="#231f20" stroke-width="1.1" />
<path d="M468.7,1222.9 Q463.7,1225 463.7,1232.5 Q463.7,1240 468.7,1242" stroke="#231f20" stroke-width="1.0" fill="none" stroke-linejoin="round" stroke-dasharray="6,1.5"/>
<path d="M477.9,1220.4 H488.75 V1245.4 H477.9 Z" stroke="#231f20" stroke-width="1.2" fill="none" stroke-linejoin="round" />
<line x1="477.90" y1="1225.40" x2="488.75" y2="1225.40" stroke="#231f20" stroke-width="1.0" />
<line x1="477.90" y1="1239.60" x2="488.75" y2="1239.60" stroke="#231f20" stroke-width="1.0" />
<line x1="488.75" y1="1230.40" x2="592.40" y2="1230.40" stroke="#333" stroke-width="1.1" />
<line x1="488.75" y1="1234.20" x2="592.40" y2="1234.20" stroke="#333" stroke-width="1.1" />
<path d="M592.4,1230 Q594,1232 592.4,1234" stroke="#231f20" stroke-width="1.0" fill="none" stroke-linejoin="round" />
<line x1="393.30" y1="1232.50" x2="438.00" y2="1232.50" stroke="#231f20" stroke-width="1.2" />
<line x1="441.00" y1="1232.50" x2="476.00" y2="1232.50" stroke="#999" stroke-width="0.7" />
<line x1="491.00" y1="1232.00" x2="497.00" y2="1232.00" stroke="#777" stroke-width="0.8" />
<line x1="397.80" y1="1158.50" x2="397.80" y2="1179.00" stroke="#231f20" stroke-width="1.2" />
<path d="M397.80,1157.00 L402.20,1168.50 L397.80,1165.05 L393.40,1168.50Z" fill="#231f20"/>
<line x1="397.80" y1="1206.00" x2="397.80" y2="1230.50" stroke="#231f20" stroke-width="1.2" />
<path d="M397.80,1232.00 L393.40,1220.50 L397.80,1223.95 L402.20,1220.50Z" fill="#231f20"/>
<line x1="397.80" y1="1236.00" x2="397.80" y2="1289.00" stroke="#231f20" stroke-width="1.2" />
<path d="M397.80,1234.20 L402.20,1245.70 L397.80,1242.25 L393.40,1245.70Z" fill="#231f20"/>
<line x1="397.80" y1="1319.00" x2="397.80" y2="1359.50" stroke="#231f20" stroke-width="1.2" />
<path d="M397.80,1360.90 L393.40,1349.40 L397.80,1352.85 L402.20,1349.40Z" fill="#231f20"/>
<line x1="393.30" y1="1361.30" x2="436.70" y2="1361.30" stroke="#231f20" stroke-width="1.2" />
<path d="M441.2,1250.6 V1361.3 H469.6 V1250.6" stroke="#231f20" stroke-width="1.2" fill="none" stroke-linejoin="round" />
<line x1="455.60" y1="1250.60" x2="455.60" y2="1361.30" stroke="#231f20" stroke-width="1.0" />
<line x1="441.20" y1="1361.30" x2="441.20" y2="1384.70" stroke="#231f20" stroke-width="1.1" />
<line x1="469.60" y1="1361.30" x2="469.60" y2="1384.70" stroke="#231f20" stroke-width="1.1" />
<line x1="411.10" y1="1378.40" x2="440.00" y2="1378.40" stroke="#231f20" stroke-width="1.2" />
<path d="M441.00,1378.40 L429.50,1382.80 L432.95,1378.40 L429.50,1374.00Z" fill="#231f20"/>
<line x1="471.00" y1="1378.40" x2="500.80" y2="1378.40" stroke="#231f20" stroke-width="1.2" />
<path d="M469.80,1378.40 L481.30,1374.00 L477.85,1378.40 L481.30,1382.80Z" fill="#231f20"/>
<path d="M570.2,1304.6 V1168 Q570.2,1164.5 573.5,1164.5 H585 Q586.8,1164.5 586.8,1162.5 V1153 Q586.8,1151 584.5,1151 H571.7" stroke="#231f20" stroke-width="1.2" fill="none" stroke-linejoin="round" />
<line x1="572.00" y1="1304.60" x2="572.00" y2="1167.00" stroke="#888" stroke-width="0.7" />
<path d="M581,1154.5 H584.5 V1161.5 H581 Z" stroke="#231f20" stroke-width="1.0" fill="none" stroke-linejoin="round" />
<path d="M588.5,1154.5 H592 V1161.5 H588.5 M592,1152.3 H595.7 V1164.5 H592 Z" stroke="#231f20" stroke-width="1.0" fill="none" stroke-linejoin="round" />
<path d="M559,1226 H581.3 V1238.6 H559 Z" stroke="#231f20" stroke-width="1.1" fill="none" stroke-linejoin="round" />
<path d="M564,1229.3 H577 M564,1235.2 H577 M563,1229.3 Q561.5,1232.2 563,1235.2 M577,1229.3 Q579,1232.2 577,1235.2" stroke="#231f20" stroke-width="0.9" fill="none" stroke-linejoin="round" />
<line x1="566.00" y1="1226.00" x2="566.00" y2="1238.60" stroke="#777" stroke-width="0.7" />
<line x1="574.50" y1="1226.00" x2="574.50" y2="1238.60" stroke="#777" stroke-width="0.7" />
<path d="M914.6,181 L979.9,146.5 C985,144 1000,143 1008,148 C1011.5,150 1012.5,153 1012.5,155.8 Q1011,161.5 1005,165.5 L942.6,195.3 Q940,196.5 937.5,195.3 L915.8,184.5 Q913.8,183 914.6,181 Z" stroke="#231f20" stroke-width="1.1" fill="none" stroke-linejoin="round" />
<path d="M914.6,181.3 L939.7,193.2 L1003,163 Q1010,159.5 1011.7,154.6" stroke="#231f20" stroke-width="0.9" fill="none" stroke-linejoin="round" />
<path d="M916,183.3 L939.7,194.6 L1004,164.3" stroke="#333" stroke-width="1.5" stroke-dasharray="0.7,0.7" fill="none"/>
<circle cx="981.4" cy="150.1" r="0.8" fill="none" stroke="#777" stroke-width="0.6"/>
<circle cx="999.3" cy="159.4" r="0.8" fill="#231f20"/>
<path d="M975,180.8 L990.8,188.3" stroke="#231f20" stroke-width="1.0" fill="none" stroke-linejoin="round" />
<path d="M990.2,188.3 V174 Q991,171.7 992.5,171.7 Q994.6,172.5 994.6,175 V188.3" stroke="#666" stroke-width="0.8" fill="none" stroke-linejoin="round" />
<path d="M990.8,189.2 Q1008,183 1011.7,176.7" stroke="#231f20" stroke-width="1.7" fill="none" stroke-linejoin="round" />
<line x1="1012.50" y1="155.80" x2="1012.50" y2="281.30" stroke="#231f20" stroke-width="1.1" />
<path d="M871.6,226.2 L934,193.9" stroke="#231f20" stroke-width="0.9" fill="none" stroke-linejoin="round" />
<path d="M871.6,226.2 V238.5 L896.4,250.9 Q898.5,251.5 900.2,250.9 V240.5 Q900.2,238.5 898.5,238.5 L871.6,226.2" stroke="#231f20" stroke-width="1.1" fill="none" stroke-linejoin="round" />
<line x1="896.40" y1="238.50" x2="896.40" y2="250.90" stroke="#231f20" stroke-width="0.8" />
<path d="M899.2,238.5 L1011.5,178.1" stroke="#231f20" stroke-width="1.1" fill="none" stroke-linejoin="round" />
<path d="M900.2,250.9 L965.7,219.5" stroke="#231f20" stroke-width="1.1" fill="none" stroke-linejoin="round" />
<path d="M965.7,219.5 L979,211.9 Q990.5,208.5 993.6,217.5 V238" stroke="#231f20" stroke-width="0.9" fill="none" stroke-linejoin="round" />
<path d="M977,213.3 L988.5,219.8" stroke="#231f20" stroke-width="0.8" fill="none" stroke-linejoin="round" />
<line x1="965.70" y1="219.50" x2="965.70" y2="277.50" stroke="#231f20" stroke-width="1.1" />
<line x1="990.40" y1="217.00" x2="990.40" y2="290.80" stroke="#231f20" stroke-width="0.9" />
<line x1="994.20" y1="219.50" x2="994.20" y2="290.80" stroke="#231f20" stroke-width="0.9" />
<path d="M965.7,277.5 L991.4,290.8 L1010,282.5 Q1012.3,281.5 1012.3,279" stroke="#231f20" stroke-width="1.1" fill="none" stroke-linejoin="round" />
<path d="M913.5,258.5 L944.8,245.2 Q955,243 965.7,247" stroke="#231f20" stroke-width="1.1" fill="none" stroke-linejoin="round" />
<path d="M913.5,258.5 V263.2 L1032.2,323 Q1037,324.5 1042,322 L1057,314 Q1060.7,311.5 1060.7,306.9 V301.2 Q1060.7,294.5 1055,290.8 L1012.3,270.4" stroke="#231f20" stroke-width="1.1" fill="none" stroke-linejoin="round" />
<path d="M914.4,259.4 L1032.2,316.4 Q1036,318 1041,315.5 L1056,308 Q1060,305.5 1060.7,301.2" stroke="#231f20" stroke-width="0.8" fill="none" stroke-linejoin="round" />
<path d="M914,261.5 L1032.2,320 L1058,307" stroke="#555" stroke-width="0.9" fill="none" stroke-linejoin="round" />
<path d="M914,262.3 L1032.2,321.5" stroke="#333" stroke-width="1.6" stroke-dasharray="0.8,0.8"/>
<ellipse cx="895.4" cy="315.5" rx="17.1" ry="9.5" fill="none" stroke="#231f20" stroke-width="0.6"/>
<ellipse cx="894.5" cy="312.8" rx="9.5" ry="5.2" fill="none" stroke="#231f20" stroke-width="0.9"/>
<path d="M885,313 V315.5 Q886,320 894.5,320.3 Q903,320 904,315.5 V313" stroke="#231f20" stroke-width="0.9" fill="none" stroke-linejoin="round" />
<path d="M791.2,409.7 L872.7,368.9 C878,364.5 900,360 910,369 C913.5,372 914.9,376 914.9,379.8 Q913.5,384.5 907.5,387.5 L827,427.5 Q824.5,429 822,427.8 L792.5,413.5 Q790.5,412 791.2,409.7 Z" stroke="#231f20" stroke-width="1.1" fill="none" stroke-linejoin="round" />
<path d="M791.8,411.2 L824.5,426.4 L900,389.5 Q911,384 914.9,378.6" stroke="#231f20" stroke-width="0.9" fill="none" stroke-linejoin="round" />
<path d="M793,413 L824.5,427.8 L901,390.5" stroke="#333" stroke-width="1.4" stroke-dasharray="0.7,0.7" fill="none"/>
<circle cx="875.5" cy="371.3" r="0.9" fill="none" stroke="#666" stroke-width="0.6"/>
<circle cx="898.7" cy="382.8" r="0.9" fill="#231f20"/>
<line x1="907.50" y1="387.50" x2="907.50" y2="412.30" stroke="#231f20" stroke-width="1.0" />
<line x1="914.60" y1="379.80" x2="914.60" y2="534.50" stroke="#231f20" stroke-width="1.1" />
<path d="M867.2,410.6 L887.7,420" stroke="#231f20" stroke-width="0.9" fill="none" stroke-linejoin="round" />
<path d="M887.7,420 V401 Q888.5,398.7 890,398.7 Q892.1,399.5 892.1,402.3 V420" stroke="#666" stroke-width="0.8" fill="none" stroke-linejoin="round" />
<path d="M907.5,412.6 Q912,409 914.3,403.5" stroke="#231f20" stroke-width="1.7" fill="none" stroke-linejoin="round" />
<path d="M737.4,466.2 L815.3,426.4" stroke="#231f20" stroke-width="0.9" fill="none" stroke-linejoin="round" />
<path d="M737.4,466.2 V482.9 L768.9,498.7 Q771.5,499.5 773.6,498 V484.5 Q773.6,482 771.5,482 L737.4,466.2" stroke="#231f20" stroke-width="1.1" fill="none" stroke-linejoin="round" />
<line x1="768.90" y1="482.00" x2="768.90" y2="498.70" stroke="#231f20" stroke-width="0.8" />
<path d="M773.6,482 L914.4,408.8" stroke="#231f20" stroke-width="1.1" fill="none" stroke-linejoin="round" />
<path d="M773.6,497.7 L856.4,457.6" stroke="#231f20" stroke-width="1.1" fill="none" stroke-linejoin="round" />
<path d="M856.4,457.6 L876.4,446.8 Q889,441.5 892,456 V548.4" stroke="#231f20" stroke-width="0.9" fill="none" stroke-linejoin="round" />
<path d="M876.4,447.7 L889.4,456" stroke="#231f20" stroke-width="0.8" fill="none" stroke-linejoin="round" />
<line x1="888.30" y1="460.40" x2="888.30" y2="548.40" stroke="#231f20" stroke-width="0.9" />
<line x1="856.40" y1="457.60" x2="856.40" y2="533.60" stroke="#231f20" stroke-width="1.1" />
<path d="M856.4,533.6 L888.3,548.4 M892,548.4 L909,540 Q914.2,537.5 914.2,534" stroke="#231f20" stroke-width="1.1" fill="none" stroke-linejoin="round" />
<path d="M841.6,531.7 L856.4,525.6" stroke="#231f20" stroke-width="1.1" fill="none" stroke-linejoin="round" />
<path d="M914.2,521.6 C921,524 924.4,528 924.4,532.7 V538.2 Q924.4,542 920,545 L892,557.7 Q889.5,558.5 888.3,557.5 L843,536 Q841.6,535 841.6,533.5 V531.7" stroke="#231f20" stroke-width="1.1" fill="none" stroke-linejoin="round" />
<path d="M841.6,534.5 L888.3,555.8 Q890,557 892,556 L924.4,535" stroke="#231f20" stroke-width="0.8" fill="none" stroke-linejoin="round" />
<path d="M841.6,538.2 L888.3,562.3 Q890,563 892,562 L920,548 Q924.4,545 924.4,540" stroke="#231f20" stroke-width="1.1" fill="none" stroke-linejoin="round" />
<line x1="888.30" y1="557.00" x2="888.30" y2="562.30" stroke="#231f20" stroke-width="0.7" />
<ellipse cx="771" cy="563.3" rx="20.4" ry="11.5" fill="none" stroke="#231f20" stroke-width="0.6"/>
<ellipse cx="771" cy="560.4" rx="11.5" ry="6" fill="none" stroke="#231f20" stroke-width="0.9"/>
<path d="M759.5,560.4 V562.5 Q760.5,568.5 771,568.7 Q781.5,568.5 782.5,562.5 V560.4" stroke="#231f20" stroke-width="0.9" fill="none" stroke-linejoin="round" />
<circle cx="748.75" cy="1250.8" r="24" fill="none" stroke="#231f20" stroke-width="0.9"/>
<path id="wsTop" d="M732.75,1250.8 A16,16 0 0 1 764.75,1250.8" fill="none"/>
<path id="wsBot" d="M727.25,1250.8 A21.5,21.5 0 0 0 770.25,1250.8" fill="none"/>
<text font-family="Liberation Sans" font-weight="bold" font-size="8.0" fill="#231f20" stroke="#231f20" stroke-width="0.25" letter-spacing="0"><textPath href="#wsTop" startOffset="50%" text-anchor="middle">WaterSense</textPath></text>
<text font-family="Liberation Sans" font-size="6.0" font-weight="bold" fill="#231f20" letter-spacing="0.1"><textPath href="#wsBot" startOffset="50%" text-anchor="middle"><tspan letter-spacing="0.75">Meets</tspan> <tspan font-weight="normal" font-size="6.6">EPA</tspan> Criteria</textPath></text>
<circle cx="729.6" cy="1252.3" r="0.6" fill="#231f20"/><circle cx="768.2" cy="1252.3" r="0.6" fill="#231f20"/>
<path d="M748.8,1239.2 C751,1244 757.9,1250 757.9,1256 C757.9,1261 753.5,1263.8 748.8,1263.8 C744,1263.8 740,1261 740,1256 C740,1250 746.5,1244 748.8,1239.2 Z" fill="#231f20"/>
<path d="M746.8,1244 C745.5,1248 746,1251 749.5,1255 L756,1262.5" stroke="#fff" stroke-width="0.7" fill="none"/>
<text x="748.8" y="1280.3" font-family="Liberation Sans" font-size="3.4" text-anchor="middle" fill="#231f20">Certified by</text>
<text x="748.8" y="1285.3" font-family="Liberation Sans" font-weight="bold" font-size="3.8" text-anchor="middle" fill="#231f20">IAPMO R&amp;T</text>
<path d="M717.1,1369 H740.8 V1393.7 H717.1 Z M718.1,1370.8 V1392.2 H738.8 V1370.8 Z" fill="#231f20" fill-rule="evenodd"/>
<circle cx="725.6" cy="1373.3" r="1.3" fill="#231f20"/>
<path d="M725.4,1375 V1382.2 H731 L733.9,1387.8 L735.8,1387.2 M725.4,1379.4 H729.7" stroke="#231f20" stroke-width="1.2" fill="none" stroke-linejoin="round" />
<path d="M723.5,1380.3 A5.3,5.3 0 1 0 731.2,1385.8" stroke="#231f20" stroke-width="1.2" fill="none" stroke-linejoin="round" />
</svg>
</body></html>
